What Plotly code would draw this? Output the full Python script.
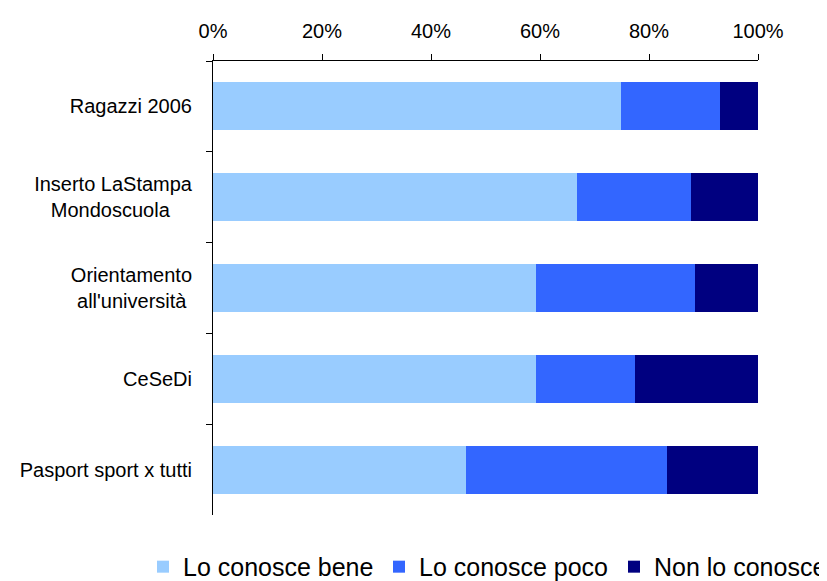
import plotly.graph_objects as go

NBSP = "\u00a0"
categorie = ["Ragazzi 2006", "Inserto LaStampa<br>Mondoscuola" + NBSP * 4,
             "Orientamento<br>all'università" + NBSP, "CeSeDi", "Pasport sport x tutti"]
conosce_bene = [74.9, 66.8, 59.3, 59.2, 46.5]
conosce_poco = [18.1, 20.9, 29.2, 18.3, 36.8]
non_conosce = [7.0, 12.3, 11.5, 22.5, 16.7]

serie = [
    ("Lo conosce bene", conosce_bene, "#99CCFF", "legend"),
    ("Lo conosce poco", conosce_poco, "#3366FF", "legend2"),
    ("Non lo conosce", non_conosce, "#000080", "legend3"),
]

fig = go.Figure()
for nome, valori, colore, leg in serie:
    fig.add_trace(go.Bar(
        name=nome,
        y=categorie,
        x=valori,
        orientation="h",
        marker_color=colore,
        marker_line_width=0,
        legend=leg,
        showlegend=True,
    ))

# una legenda per voce, così stanno tutte su una riga
def stile_legenda(x):
    return dict(
        orientation="h",
        xref="container", x=x, xanchor="left",
        yref="container", y=0.038, yanchor="middle",
        font=dict(size=25),
        itemwidth=30,
    )

# la pagina ha 8px di margine del body: compensato nei margini
fig.update_layout(
    barmode="stack",
    bargap=0.47,
    width=827,
    height=581,
    margin=dict(l=204, r=77, t=49, b=74),
    plot_bgcolor="white",
    paper_bgcolor="white",
    font=dict(family="Liberation Sans, Arial", size=20, color="black"),
    showlegend=True,
    legend=stile_legenda(135 / 827),
    legend2=stile_legenda(371 / 827),
    legend3=stile_legenda(606 / 827),
)

fig.update_xaxes(
    side="top",
    range=[0, 100],
    tickvals=[0, 20, 40, 60, 80, 100],
    ticktext=["0%", "20%", "40%", "60%", "80%", "100%"],
    showline=True, linecolor="black", linewidth=1,
    ticks="outside", ticklen=6, tickcolor="black",
    showgrid=False, zeroline=False,
    ticklabelstandoff=8,
)
fig.update_yaxes(
    autorange="reversed",
    showline=True, linecolor="black", linewidth=1,
    ticks="outside", ticklen=6, tickcolor="black",
    tickson="boundaries",
    showgrid=False,
    ticklabelstandoff=16,
)

fig.write_html("out.html")
